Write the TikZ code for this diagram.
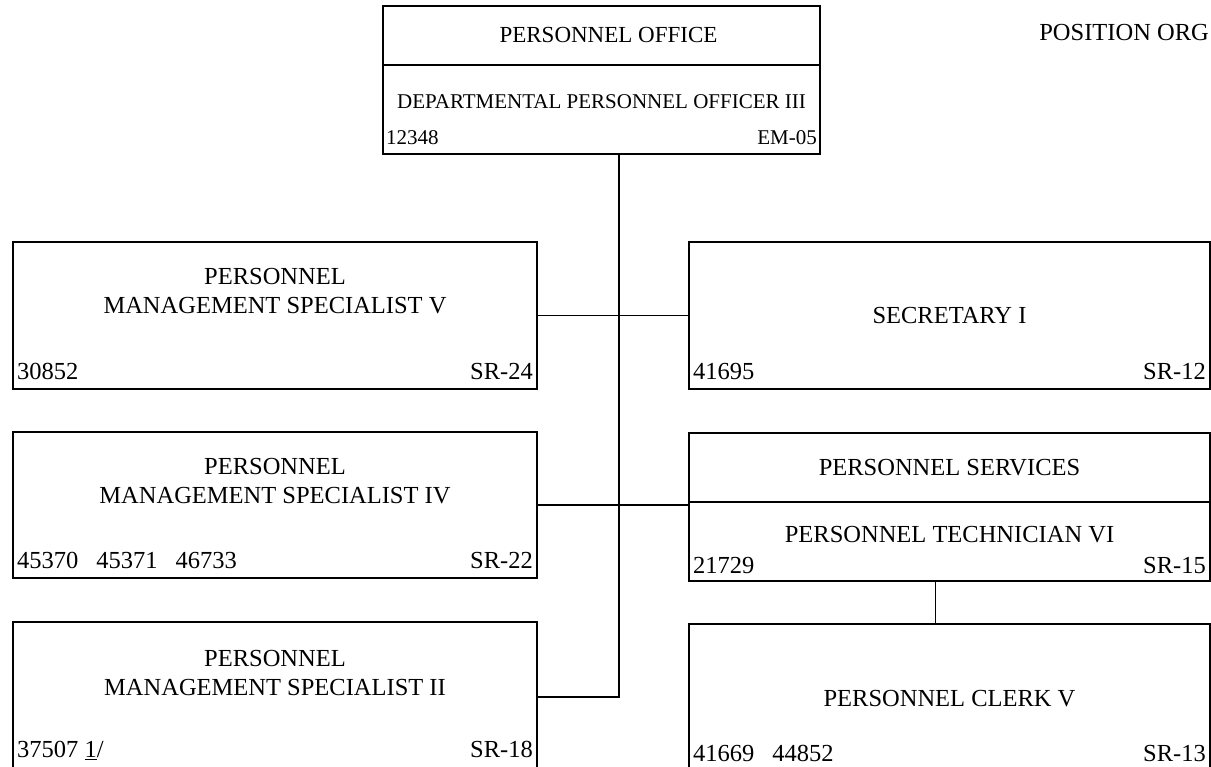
\documentclass[tikz,border=0pt]{standalone}
\usepackage{fontspec}
\setmainfont{Liberation Serif}
\usetikzlibrary{calc}
\usetikzlibrary{positioning}

\begin{document}
\begin{tikzpicture}[x=1pt,y=1pt,
  box/.style={draw, line width=1.2pt, rectangle, inner sep=0pt, outer sep=0pt, anchor=north west},
  txt/.style={font=\fontsize{24.5}{29}\selectfont, align=center, inner sep=0pt},
  num/.style={font=\fontsize{24.5}{29}\selectfont, anchor=base west, inner sep=0pt},
  grd/.style={font=\fontsize{24.5}{29}\selectfont, anchor=base east, inner sep=0pt},
  small/.style={font=\fontsize{21}{25}\selectfont},
  link/.style={line width=1.3pt}]
\useasboundingbox (0,0) rectangle (1211,767);

% head of the office
\node[box, minimum width=437pt, minimum height=59pt] (office) at (383,761) {};
\node[box, minimum width=437pt, minimum height=89pt, below=0pt of office] (dpo) {};
\node[txt, font=\fontsize{23}{27}\selectfont] (office-t) at ($(office.center)+(7,0)$) {PERSONNEL OFFICE};
\node[txt, small] (dpo-t) at ($(dpo.center)+(0,8)$) {DEPARTMENTAL PERSONNEL OFFICER III};
\node[num, small] (dpo-n) at ($(dpo.south west)+(3,9)$) {12348};
\node[grd, small] (dpo-g) at ($(dpo.south east)+(-3,9)$) {EM-05};
\node[grd] (title) at (1209,726) {POSITION ORG};

% left column
\node[box, minimum width=524pt, minimum height=147pt] (pmsv) at (13,525) {};
\node[box, minimum width=524pt, minimum height=146pt] (pmsiv) at (13,335) {};
\node[box, minimum width=524pt, minimum height=150pt] (pmsii) at (13,145) {};
\node[txt] (pmsv-t) at ($(pmsv.center)+(0,24)$) {PERSONNEL\\MANAGEMENT SPECIALIST V};
\node[txt] (pmsiv-t) at ($(pmsiv.center)+(0,24)$) {PERSONNEL\\MANAGEMENT SPECIALIST IV};
\node[txt] (pmsii-t) at ($(pmsii.center)+(0,24)$) {PERSONNEL\\MANAGEMENT SPECIALIST II};
\node[num] (pmsv-n) at ($(pmsv.south west)+(4,9)$) {30852};
\node[num] (pmsiv-n) at ($(pmsiv.south west)+(4,9)$) {45370\hspace{18pt}45371\hspace{18pt}46733};
\node[num] (pmsii-n) at ($(pmsii.south west)+(4,14)$) {37507 \underline{1}/};
\node[grd] (pmsv-g) at ($(pmsv.south east)+(-4,9)$) {SR-24};
\node[grd] (pmsiv-g) at ($(pmsiv.south east)+(-4,9)$) {SR-22};
\node[grd] (pmsii-g) at ($(pmsii.south east)+(-4,14)$) {SR-18};

% right column
\node[box, minimum width=521pt, minimum height=147pt] (secy) at (689,525) {};
\node[box, minimum width=521pt, minimum height=69pt] (svc) at (689,334) {};
\node[box, minimum width=521pt, minimum height=79pt, below=0pt of svc] (tech) {};
\node[box, minimum width=521pt, minimum height=150pt] (clerk) at (689,143) {};
\node[txt] (secy-t) at (secy.center) {SECRETARY I};
\node[txt] (svc-t) at (svc.center) {PERSONNEL SERVICES};
\node[txt] (tech-t) at ($(tech.center)+(0,7)$) {PERSONNEL TECHNICIAN VI};
\node[txt] (clerk-t) at (clerk.center) {PERSONNEL CLERK V};
\node[num] (secy-n) at ($(secy.south west)+(4,9)$) {41695};
\node[num] (tech-n) at ($(tech.south west)+(4,7)$) {21729};
\node[num] (clerk-n) at ($(clerk.south west)+(4,12)$) {41669\hspace{18pt}44852};
\node[grd] (secy-g) at ($(secy.south east)+(-4,9)$) {SR-12};
\node[grd] (tech-g) at ($(tech.south east)+(-4,7)$) {SR-15};
\node[grd] (clerk-g) at ($(clerk.south east)+(-4,12)$) {SR-13};

% lines
\coordinate (trunk) at ($(dpo.south)+(17.5,0)$);
\draw[link] (trunk) |- (pmsii.east);
\draw[link] (pmsv.east) -- (secy.west);
\draw[link] (pmsiv.east) -- (pmsiv.east -| tech.west);
\coordinate (drop) at ($(tech.south)+(-14,0)$);
\draw[link] (drop) -- (drop |- clerk.north);
\end{tikzpicture}
\end{document}
